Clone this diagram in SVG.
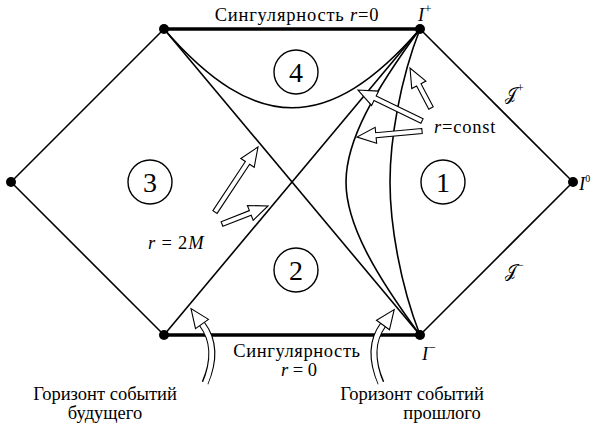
<svg xmlns="http://www.w3.org/2000/svg" width="593" height="429" viewBox="0 0 593 429">
<style>
.ln{fill:none;stroke:#000;stroke-width:1.6}
.sg{fill:none;stroke:#000;stroke-width:3.5}
.dot{fill:#000}
.reg{fill:#fff;stroke:#000;stroke-width:1.4}
.num{font-size:28px;text-anchor:middle}
.t{font-size:18.5px;fill:#000}
.it{font-style:italic}
.sc{font-family:"DejaVu Sans","DejaVu Serif",sans-serif;font-style:normal;font-size:17px}
.ar{fill:#fff;stroke:#000;stroke-width:1.1;stroke-linejoin:miter}
.sh1{fill:none;stroke:#000;stroke-width:7}
.sh2{fill:none;stroke:#fff;stroke-width:4.8}
</style>
<rect width="593" height="429" fill="#fff"/>
<g id="connectors">
<line class="ln" x1="164" y1="29" x2="11" y2="182"/>
<line class="ln" x1="11" y1="182" x2="164" y2="335"/>
<line class="ln" x1="420" y1="29" x2="573" y2="182"/>
<line class="ln" x1="573" y1="182" x2="420" y2="335"/>
<line class="ln" x1="164" y1="29" x2="420" y2="335"/>
<line class="ln" x1="164" y1="335" x2="420" y2="29"/>
<line class="sg" x1="164" y1="29" x2="420" y2="29"/>
<line class="sg" x1="164" y1="335" x2="420" y2="335"/>
<path class="ln" d="M164,29 C255,134 329,134 420,29"/>
<path class="ln" d="M420,29 C375,90 346,140 346,182 C346,224 375,274 420,335"/>
<path class="ln" d="M420,29 C400,80 390,140 390,182 C390,224 400,284 420,335"/>
</g>
<g id="nodes">
<circle class="dot" cx="164" cy="29" r="5"/>
<circle class="dot" cx="420" cy="29" r="5"/>
<circle class="dot" cx="11" cy="182" r="5"/>
<circle class="dot" cx="573" cy="182" r="5"/>
<circle class="dot" cx="164" cy="335" r="5"/>
<circle class="dot" cx="420" cy="335" r="5"/>
</g>
<g font-family="Liberation Serif, Times New Roman, serif">
<g id="region1"><circle class="reg" cx="443" cy="182" r="22"/><text class="num" x="443" y="192">1</text></g>
<g id="region2"><circle class="reg" cx="296" cy="270" r="22"/><text class="num" x="296" y="280">2</text></g>
<g id="region3"><circle class="reg" cx="150" cy="182" r="22"/><text class="num" x="150" y="192">3</text></g>
<g id="region4"><circle class="reg" cx="296" cy="72" r="22"/><text class="num" x="296" y="82">4</text></g>
</g>
<g id="arrows">
<polygon class="ar" points="433.2,106.8 421.0,83.7 425.9,81.1 410,68 411.75,88.54 416.6,85.98 428.8,109.2"/>
<polygon class="ar" points="423.1,118.75 376.2,96.03 378.6,91.08 358,90 371.6,105.48 374.0,100.53 420.9,123.25"/>
<polygon class="ar" points="421.77,128.51 375.67,132.76 375.17,127.29 357,137 376.64,143.21 376.13,137.74 422.23,133.49"/>
<polygon class="ar" points="217.1,213.4 249.6,164.23 254.2,167.27 258,147 240.8,158.43 245.4,161.47 212.9,210.6"/>
<polygon class="ar" points="222.9,226.3 251.2,215.2 253.2,220.35 268,206 247.4,205.45 249.4,210.6 221.1,221.7"/>
<path class="sh1" d="M205,383 C215,360 214,340 202,324"/>
<path class="sh2" d="M205,384 C215,360 214,340 202,324"/>
<polygon class="ar" points="208.5,319.4 191,308.6 195.5,328.6"/>
<path class="sh1" d="M381,383 C371,360 372,340 383,325"/>
<path class="sh2" d="M381,384 C371,360 372,340 383,325"/>
<polygon class="ar" points="389.5,329.7 394.2,309.6 376.5,320.3"/>
</g>
<g id="labels" font-family="Liberation Serif, Times New Roman, serif">
<text class="t" x="297" y="21" text-anchor="middle" letter-spacing="0.8">Сингулярность <tspan class="it">r</tspan>=0</text>
<text class="t" x="418" y="21"><tspan class="it">I</tspan><tspan font-size="13" dy="-8">+</tspan></text>
<text class="t" x="579" y="190"><tspan class="it">I</tspan><tspan font-size="10" dy="-8">0</tspan></text>
<text class="t" x="422" y="360"><tspan class="it">I</tspan><tspan font-size="13" dy="-8">−</tspan></text>
<text class="t" x="505" y="100"><tspan class="sc">𝒥</tspan><tspan font-size="12" dy="-8">+</tspan></text>
<text class="t" x="505" y="277"><tspan class="sc">𝒥</tspan><tspan font-size="12" dy="-8">−</tspan></text>
<text class="t" x="434" y="133" letter-spacing="0.8"><tspan class="it">r</tspan>=const</text>
<text class="t" x="148" y="249" letter-spacing="0.8"><tspan class="it">r</tspan> = 2<tspan class="it">M</tspan></text>
<text class="t" x="297" y="357" text-anchor="middle" letter-spacing="0.6">Сингулярность</text>
<text class="t" x="299" y="376" text-anchor="middle"><tspan class="it">r</tspan> = 0</text>
<text class="t" x="105" y="400" text-anchor="middle">Горизонт событий</text>
<text class="t" x="105" y="419" text-anchor="middle">будущего</text>
<text class="t" x="412" y="400" text-anchor="middle">Горизонт событий</text>
<text class="t" x="442" y="419" text-anchor="middle">прошлого</text>
</g>
</svg>
